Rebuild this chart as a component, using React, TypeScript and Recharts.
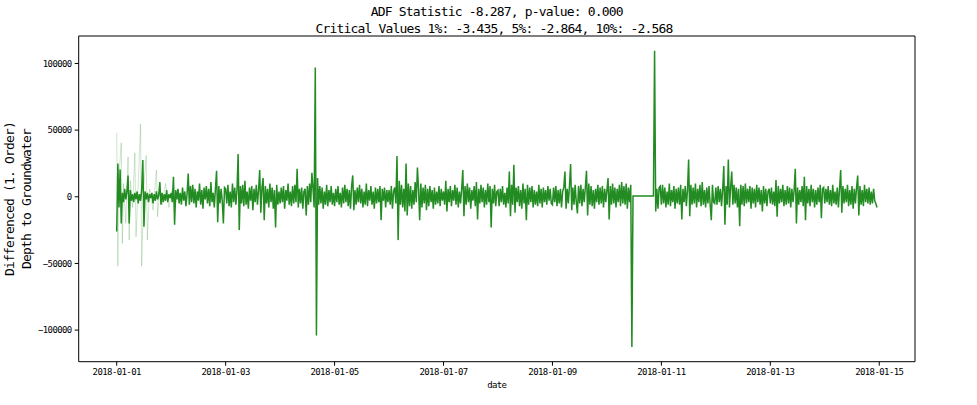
import React from 'react';
import { LineChart, Line, XAxis, YAxis, ReferenceLine } from 'recharts';

// Half-hourly first-order differences, one array per day (2018-01-01 .. 2018-01-14), 48 values each
const day01 = [-26000, 25000, -8000, 20500, -20000, 3000, -4000, 6000, -2000, 4000, 16000, -20000, 5000, -3000, 2000, -4000, 3000, -2000, 4000, -5000, 2000, -3000, 5000, 27500, -22500, 4000, -2000, 3000, -4000, 2000, -1000, 3000, -5000, 2000, -3000, 4000, -2000, 1000, 11000, -6000, 3000, -4000, 2000, -3000, 5000, -4000, 2000, -1000];
const day02 = [3000, -4000, 15000, -21000, 5000, -2000, 6000, -5000, 3000, -6000, 7000, -3000, 4000, -7000, 2000, 17500, -6000, 8000, -4000, 9000, -5000, 6000, -8000, 4000, -3000, 10000, -6000, 5000, -9000, 7000, -2000, 8000, -5000, 6000, -7000, 11000, -4000, 3000, -8000, 6000, 19500, -19000, 8000, -5000, 6000, -3000, -20000, 7000];
const day03 = [6000, -5000, 9000, -7000, 4000, -8000, 10000, -4000, 7000, -6000, 5000, 32000, -25000, 8000, -5000, 9000, -7000, 12000, -6000, 4000, -9000, 7000, -3000, 8000, -10000, 6000, -4000, 9000, -6000, 5000, 20000, -12000, 7000, 14000, -17500, 8000, -5000, 6000, -8000, 10000, -4000, 7000, -9000, 5000, -23000, 9000, -6000, 4000];
const day04 = [-5000, 7000, -4000, 8000, -9000, 5000, -3000, 10000, -6000, 4000, -7000, 8000, -5000, 9000, -4000, 21000, -8000, 6000, -5000, 7000, -9000, 4000, 6000, -14000, 8000, -6000, 10000, -4000, 18000, 6000, -8000, 97000, -104000, 14000, -6000, 8000, -5000, 7000, -9000, 4000, -6000, 9000, -7000, 5000, -4000, 8000, -6000, 3000];
const day05 = [-7000, 6000, -4000, 8000, -6000, 3000, -8000, 7000, -5000, 9000, -4000, 6000, -7000, 5000, -9000, 8000, 16000, -10000, 5000, -6000, 7000, -4000, 9000, -5000, 6000, -8000, 4000, -6000, 10000, -7000, 5000, -3000, 8000, -6000, 4000, -9000, 7000, -5000, 6000, -4000, 8000, -17500, 6000, -3000, 7000, -8000, 5000, -4000];
const day06 = [5000, -6000, 8000, -9000, 4000, 7000, -5000, 30500, -32500, 12000, -6000, 9000, -8000, 6000, -11000, 25000, -14000, 10000, -7000, 8000, -9000, 5000, -6000, 11000, -4000, 22000, 6000, -17500, 10000, -8000, 7000, -5000, 9000, -10000, 6000, -7000, 8000, -4000, 5000, -9000, 7000, -6000, 4000, -5000, 8000, -7000, 6000, -3000];
const day07 = [4000, -6000, 12000, -11000, 6000, -4000, 8000, -7000, 5000, -3000, 9000, -6000, 7000, -8000, 4000, -5000, 6000, 20000, -14500, 8000, -6000, 10000, -4000, 7000, -9000, 5000, -3000, 8000, -7000, 11000, -17000, 6000, -5000, 9000, -4000, 7000, -8000, 5000, -6000, 10000, -4000, 8000, -23000, 6000, -5000, 9000, -7000, 4000];
const day08 = [5000, -7000, 6000, -4000, 8000, -6000, 3000, -8000, 7000, -5000, 19000, -14500, 9000, -6000, 24000, -12000, 7000, -4000, 8000, -7000, 5000, -9000, 10000, -5000, 6000, -17500, 9000, -6000, 7000, -4000, 8000, -8000, 5000, -6000, 4000, -7000, 9000, -5000, 6000, -8000, 7000, -4000, 5000, -6000, 8000, -3000, 6000, -5000];
const day09 = [-6000, 7000, -4000, 8000, -7000, 5000, -5000, 6000, -8000, 4000, 7000, 19000, -9000, 6000, -5000, 8000, 24500, -10000, 7000, -6000, 9000, -4000, -12500, 8000, -5000, 9000, -7000, 6000, -4000, 7000, 19500, -14000, 10000, -6000, 8000, -7000, 5000, -9000, 6000, -4000, 9000, -6000, 7000, -5000, 8000, -8000, 6000, -4000];
const day10 = [5000, 14000, -17000, 8000, -6000, 10000, -5000, 7000, -8000, 6000, -4000, 9000, -7000, 11000, -5000, 8000, -6000, 10000, -9000, 7000, -4000, 9000, -112600, 600, 600, 600, 600, 600, 600, 600, 600, 600, 600, 600, 600, 600, 600, 600, 600, 600, 600, 600, 109600, -11000, 6000, -9000, 7000];
const day11 = [8000, -6000, 9000, -5000, 7000, -8000, 4000, -6000, 10000, -7000, 5000, -4000, 8000, -9000, 6000, -5000, 7000, -6000, 9000, -17000, 6000, -4000, 8000, -7000, 5000, 28000, -14500, 9000, -6000, 7000, -5000, 10000, -8000, 6000, -4000, 9000, -7000, 11000, -6000, 5000, -8000, 7000, -5000, 8000, -6000, -17500, 9000, -4000];
const day12 = [-5000, 7000, -6000, 8000, -4000, 6000, -7000, 5000, 23000, -21000, 8000, -6000, 28000, -8000, 7000, 19000, -6000, 9000, -5000, 7000, -8000, 6000, -22000, 9000, -6000, 8000, -7000, 10000, -5000, 6000, -4000, 8000, -9000, 7000, -5000, 6000, -8000, 9000, -4000, 7000, -6000, 5000, -11000, 8000, -5000, 6000, -7000, 4000];
const day13 = [6000, -5000, 7000, -6000, 4000, -7000, 12500, -15000, 8000, -5000, 6000, -4000, 9000, -7000, 5000, -6000, 8000, -5000, 7000, -8000, 6000, -4000, 5000, 21000, -20000, 7000, -6000, 5000, -4000, 8000, -7000, 15000, -17500, 8000, -5000, 6000, -7000, 9000, -4000, 6000, -8000, 5000, -6000, 7000, -4000, 9000, -16000, 6000];
const day14 = [7000, -5000, 6000, -4000, 8000, -6000, 5000, -7000, 9000, -5000, 4000, -6000, 7000, -8000, 6000, 20000, -12000, 8000, -5000, 6000, -4000, 9000, -7000, 5000, -6000, 8000, -9000, 6000, -5000, 7000, 16000, -14000, 8000, -6000, 5000, -7000, 9000, -4000, 6000, -5000, 7000, -6000, 4000, -5000, 6000, -3000, -5000, -8000];

// Faint (alpha) series over the first day: hours since start and values
const faintHours = [0, 0.5, 1, 2, 2.5, 3, 4, 5, 5.5, 6, 7, 8, 8.5, 9.5, 10.5, 11, 12, 13, 13.5, 14.5, 16, 17.5, 18, 19, 20, 21.5, 23, 24.5, 26, 28];
const faintValues = [48000, -52000, 15000, 40500, -35000, 10000, -20000, 30000, -32500, 12000, -8000, 33000, -30000, 10000, 54500, -52000, 9000, 31000, -32500, 6000, -10000, 20000, -15000, 8000, -6000, 10000, -8000, 6000, -5000, 3000];

const xTickHours = [0, 48, 96, 144, 192, 240, 288, 336];
const xTickLabels = ['2018-01-01', '2018-01-03', '2018-01-05', '2018-01-07', '2018-01-09', '2018-01-11', '2018-01-13', '2018-01-15'];
const yTicks = [-100000, -50000, 0, 50000, 100000];

const titleLine1 = 'ADF Statistic -8.287, p-value: 0.000';
const titleLine2 = 'Critical Values 1%: -3.435, 5%: -2.864, 10%: -2.568';
const yLabel1 = 'Differenced (1. Order)';
const yLabel2 = 'Depth to Groundwater';
const xLabel = 'date';

const allDays = [day01, day02, day03, day04, day05, day06, day07, day08, day09, day10, day11, day12, day13, day14];
const mainData = allDays.flat().map((v, i) => ({ t: i * 0.5, v }));
const faintData = faintHours.map((t, i) => ({ t, v: faintValues[i] }));

const X_DOMAIN: [number, number] = [-16.75, 351.75];
const Y_DOMAIN: [number, number] = [-123700, 120600];

const GREEN = '#228B22';
const MONO = "'DejaVu Sans Mono', 'Liberation Mono', monospace";

const XTick = (props: any) => {
  const { x, y, payload } = props;
  const idx = xTickHours.indexOf(payload.value);
  return (
    <text x={x} y={y} dy="0.71em" textAnchor="middle" fontSize={9} fontFamily={MONO} fill="#000" style={{ letterSpacing: '-0.6px' }}>
      {idx >= 0 ? xTickLabels[idx] : ''}
    </text>
  );
};

const YTick = (props: any) => {
  const { x, y, payload } = props;
  const s = String(payload.value).replace('-', '\u2212');
  return (
    <text x={x} y={y} dy="0.35em" textAnchor="end" fontSize={9} fontFamily={MONO} fill="#000" style={{ letterSpacing: '-0.6px' }}>
      {s}
    </text>
  );
};

export default function App() {
  return (
    <div style={{ position: 'absolute', left: 0, top: 0, width: 977, height: 405, background: '#fff' }}>
      <LineChart width={977} height={405} margin={{ top: 36, right: 62, bottom: 0, left: 0 }}>
        <XAxis
          dataKey="t"
          type="number"
          domain={X_DOMAIN}
          allowDataOverflow
          ticks={xTickHours}
          interval={0}
          height={43.3}
          tickSize={4}
          tickMargin={3}
          tick={<XTick />}
          tickLine={{ stroke: '#000', strokeWidth: 1 }}
          axisLine={{ stroke: '#000', strokeWidth: 1 }}
        />
        <YAxis
          type="number"
          domain={Y_DOMAIN}
          allowDataOverflow
          ticks={yTicks}
          interval={0}
          width={78.7}
          tickSize={4}
          tickMargin={3}
          tick={<YTick />}
          tickLine={{ stroke: '#000', strokeWidth: 1 }}
          axisLine={{ stroke: '#000', strokeWidth: 1 }}
        />
        <ReferenceLine y={Y_DOMAIN[1]} stroke="#000" strokeWidth={1} ifOverflow="visible" />
        <ReferenceLine x={X_DOMAIN[1]} stroke="#000" strokeWidth={1} ifOverflow="visible" />
        <Line
          data={faintData}
          dataKey="v"
          type="linear"
          stroke={GREEN}
          strokeOpacity={0.22}
          strokeWidth={1}
          dot={false}
          activeDot={false}
          isAnimationActive={false}
        />
        <Line
          data={mainData}
          dataKey="v"
          type="linear"
          stroke={GREEN}
          strokeWidth={1.5}
          dot={false}
          activeDot={false}
          isAnimationActive={false}
        />
      </LineChart>
      <svg width={977} height={405} style={{ position: 'absolute', left: 0, top: 0, pointerEvents: 'none' }}>
        <text x={496.8} y={16} textAnchor="middle" fontSize={13} fontFamily={MONO} fill="#000" style={{ letterSpacing: '-0.83px' }}>
          {titleLine1}
        </text>
        <text x={494} y={33.3} textAnchor="middle" fontSize={13} fontFamily={MONO} fill="#000" style={{ letterSpacing: '-0.83px' }}>
          {titleLine2}
        </text>
        <text transform="translate(14,199) rotate(-90)" x={0} y={0} textAnchor="middle" fontSize={13} fontFamily={MONO} fill="#000" style={{ letterSpacing: '-0.83px' }}>
          {yLabel1}
        </text>
        <text transform="translate(31,199) rotate(-90)" x={0} y={0} textAnchor="middle" fontSize={13} fontFamily={MONO} fill="#000" style={{ letterSpacing: '-0.83px' }}>
          {yLabel2}
        </text>
        <text x={496.8} y={388} textAnchor="middle" fontSize={9} fontFamily={MONO} fill="#000" style={{ letterSpacing: '-0.6px' }}>
          {xLabel}
        </text>
      </svg>
    </div>
  );
}
